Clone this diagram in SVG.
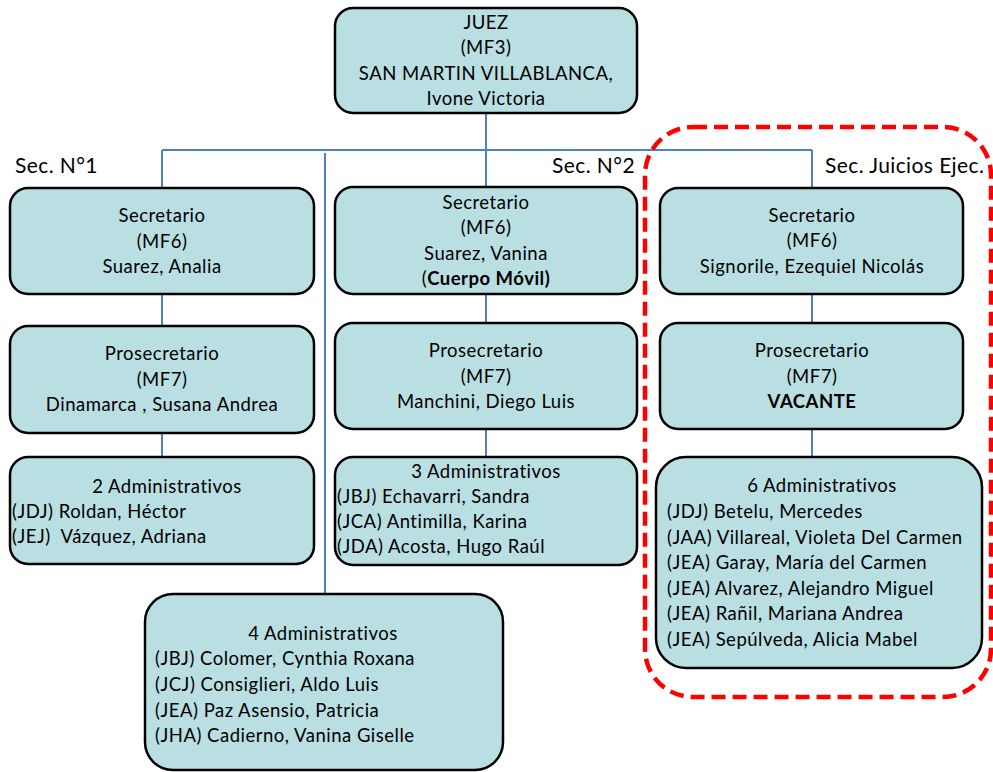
<svg xmlns="http://www.w3.org/2000/svg" width="993" height="772" viewBox="0 0 993 772">
<style>
.box{fill:#b9dfe3;stroke:#000;stroke-width:2.5}
.t{font-family:Lato,"Liberation Sans",sans-serif;font-size:18.5px;letter-spacing:0.5px;fill:#000}
.c{text-anchor:middle}
.b{font-weight:bold}
.sec{font-family:Lato,"Liberation Sans",sans-serif;font-size:21px;letter-spacing:0.4px;fill:#000}
.ln{stroke:#4f81bd;stroke-width:2;fill:none}
</style>
<rect width="993" height="772" fill="#fff"/>
<g id="connectors">
<path class="ln" d="M486 113V187M162 150H812M162 150V188M812 150V188M325 153V594M162 294V326M162 433V457M486 294V323M486 429V457M812 294V323M812 429V457"/>
</g>
<g id="group-juicios">
<rect x="645" y="127" width="346" height="570" rx="48" fill="none" stroke="#ff0000" stroke-width="4.5" stroke-dasharray="14,7"/>
</g>
<g id="labels">
<text class="sec" x="15" y="173">Sec. N°1</text>
<text class="sec" x="635" y="173" text-anchor="end">Sec. N°2</text>
<text class="sec" x="825" y="173">Sec. Juicios Ejec.</text>
</g>
<g id="juez">
<rect class="box" x="335" y="8" width="302" height="105" rx="18"/>
<text class="t c" x="486" y="29">JUEZ</text>
<text class="t c" x="486" y="54">(MF3)</text>
<text class="t c" x="486" y="80">SAN MARTIN VILLABLANCA,</text>
<text class="t c" x="486" y="105">Ivone Victoria</text>
</g>
<g id="sec1-secretario">
<rect class="box" x="10" y="188" width="304" height="106" rx="18"/>
<text class="t c" x="162" y="222">Secretario</text>
<text class="t c" x="162" y="248">(MF6)</text>
<text class="t c" x="162" y="273">Suarez, Analia</text>
</g>
<g id="sec1-prosecretario">
<rect class="box" x="10" y="326" width="304" height="107" rx="18"/>
<text class="t c" x="162" y="360">Prosecretario</text>
<text class="t c" x="162" y="386">(MF7)</text>
<text class="t c" x="162" y="411">Dinamarca , Susana Andrea</text>
</g>
<g id="sec1-admin">
<rect class="box" x="10" y="457" width="304" height="107" rx="18"/>
<text class="t c" x="167" y="493">2 Administrativos</text>
<text class="t" x="12" y="518">(JDJ) Roldan, Héctor</text>
<text class="t" x="12" y="543" xml:space="preserve">(JEJ)  Vázquez, Adriana</text>
</g>
<g id="sec2-secretario">
<rect class="box" x="335" y="187" width="302" height="107" rx="18"/>
<text class="t c" x="486" y="209">Secretario</text>
<text class="t c" x="486" y="234">(MF6)</text>
<text class="t c" x="486" y="260">Suarez, Vanina</text>
<text class="t c" x="486" y="285">(<tspan class="b">Cuerpo Móvil)</tspan></text>
</g>
<g id="sec2-prosecretario">
<rect class="box" x="335" y="323" width="302" height="106" rx="18"/>
<text class="t c" x="486" y="357">Prosecretario</text>
<text class="t c" x="486" y="383">(MF7)</text>
<text class="t c" x="486" y="408">Manchini, Diego Luis</text>
</g>
<g id="sec2-admin">
<rect class="box" x="335" y="457" width="302" height="108" rx="18"/>
<text class="t c" x="486" y="478">3 Administrativos</text>
<text class="t" x="337" y="503">(JBJ) Echavarri, Sandra</text>
<text class="t" x="337" y="528">(JCA) Antimilla, Karina</text>
<text class="t" x="337" y="553">(JDA) Acosta, Hugo Raúl</text>
</g>
<g id="juicios-secretario">
<rect class="box" x="660" y="188" width="303" height="106" rx="18"/>
<text class="t c" x="812" y="222">Secretario</text>
<text class="t c" x="812" y="247">(MF6)</text>
<text class="t c" x="812" y="273">Signorile, Ezequiel Nicolás</text>
</g>
<g id="juicios-prosecretario">
<rect class="box" x="660" y="323" width="303" height="106" rx="18"/>
<text class="t c" x="812" y="357">Prosecretario</text>
<text class="t c" x="812" y="383">(MF7)</text>
<text class="t c b" x="812" y="408">VACANTE</text>
</g>
<g id="juicios-admin">
<rect class="box" x="656" y="457" width="326" height="211" rx="30"/>
<text class="t c" x="822" y="492">6 Administrativos</text>
<text class="t" x="667" y="518">(JDJ) Betelu, Mercedes</text>
<text class="t" x="667" y="544">(JAA) Villareal, Violeta Del Carmen</text>
<text class="t" x="667" y="569">(JEA) Garay, María del Carmen</text>
<text class="t" x="667" y="595">(JEA) Alvarez, Alejandro Miguel</text>
<text class="t" x="667" y="620">(JEA) Rañil, Mariana Andrea</text>
<text class="t" x="667" y="646">(JEA) Sepúlveda, Alicia Mabel</text>
</g>
<g id="admin-general">
<rect class="box" x="145" y="594" width="358" height="176" rx="28"/>
<text class="t c" x="323" y="640">4 Administrativos</text>
<text class="t" x="155" y="665">(JBJ) Colomer, Cynthia Roxana</text>
<text class="t" x="155" y="691">(JCJ) Consiglieri, Aldo Luis</text>
<text class="t" x="155" y="717">(JEA) Paz Asensio, Patricia</text>
<text class="t" x="155" y="742">(JHA) Cadierno, Vanina Giselle</text>
</g>
</svg>
